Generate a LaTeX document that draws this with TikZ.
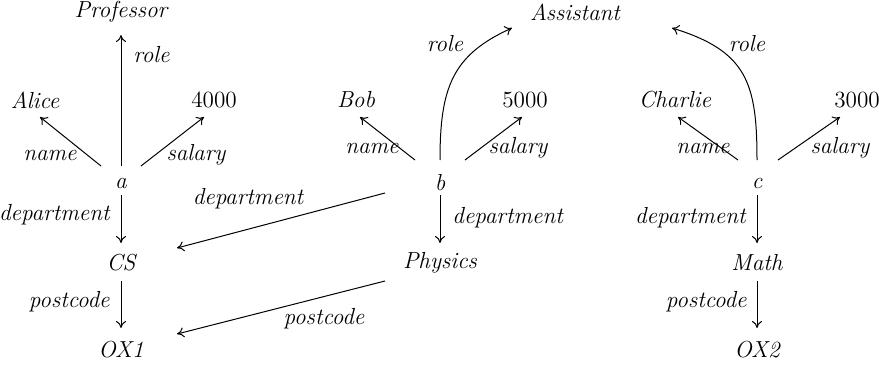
\documentclass[tikz,border=0pt]{standalone}
\usetikzlibrary{arrows.meta,calc}
\begin{document}
\begin{tikzpicture}[x=0.5pt,y=0.5pt,
  every node/.style={font=\fontsize{11.6}{13}\selectfont\itshape, inner sep=2pt},
  num/.style={font=\fontsize{11.6}{13}\selectfont\upshape},
  lbl/.style={font=\fontsize{11.6}{13}\selectfont\itshape, inner sep=1pt},
  edge/.style={-{To[length=3.5pt,width=5pt]}, line width=0.5pt}]
\useasboundingbox (0,0) rectangle (879,366);
% nodes
\node (prof) at (121,354) {Professor};
\node (alice) at (35,266) {Alice};
\node[num] (s4) at (214,266) {4000};
\node (a) at (121,183) {a};
\node (cs) at (121,103) {CS};
\node (ox1) at (121,16) {OX1};
\node (bob) at (356,266) {Bob};
\node[num] (s5) at (525,266) {5000};
\node (b) at (440,183) {b};
\node (asst) at (575,354) {Assistant};
\node (phys) at (440,103) {Physics};
\node (charlie) at (675,266) {Charlie};
\node[num] (s3) at (857,266) {3000};
\node (c) at (757,183) {c};
\node (math) at (757,103) {Math};
\node (ox2) at (757,16) {OX2};
% a edges
\draw[edge] ($(a)+(0,17)$) -- ($(prof)+(0,-23)$);
\node[lbl,anchor=west] (l1) at (131,311) {role};
\draw[edge] ($(a)+(-20,17)$) -- ($(alice)+(5,-17)$);
\node[lbl] (l2) at (50,211) {name};
\draw[edge] ($(a)+(20,17)$) -- ($(s4)+(-10,-17)$);
\node[lbl] (l3) at (196,211) {salary};
\draw[edge] ($(a)+(0,-12)$) -- ($(cs)+(0,20)$);
\node[lbl,anchor=east] (l4) at (112,151) {department};
\draw[edge] ($(cs)+(0,-18)$) -- ($(ox1)+(0,22)$);
\node[lbl,anchor=east] (l5) at (112,64) {postcode};
% b edges
\draw[edge] ($(b)+(-25,23)$) -- ($(bob)+(4,-17)$);
\node[lbl] (l6) at (372,218) {name};
\draw[edge] ($(b)+(25,23)$) -- ($(s5)+(-3,-17)$);
\node[lbl] (l7) at (518,218) {salary};
\draw[edge] ($(b)+(0,23)$) .. controls ($(b)+(0,95)$) and ($(b)+(12,128)$) .. ($(asst)+(-63,-16)$);
\node[lbl] (l8) at (445,322) {role};
\draw[edge] ($(b)+(0,-12)$) -- ($(phys)+(0,20)$);
\node[lbl,anchor=west] (l9) at (450,148) {department};
\draw[edge] ($(b)+(-55,-10)$) -- ($(cs)+(56,15)$);
\node[lbl] (l10) at (248,167) {department};
\draw[edge] ($(phys)+(-55,-18)$) -- ($(ox1)+(56,16)$);
\node[lbl] (l11) at (324,47) {postcode};
% c edges
\draw[edge] ($(c)+(-19,23)$) -- ($(charlie)+(3,-17)$);
\node[lbl] (l12) at (703,218) {name};
\draw[edge] ($(c)+(21,23)$) -- ($(s3)+(-17,-17)$);
\node[lbl] (l13) at (840,218) {salary};
\draw[edge] ($(c)+(0,23)$) .. controls ($(c)+(0,100)$) and ($(c)+(-10,132)$) .. ($(asst)+(97,-16)$);
\node[lbl] (l14) at (747,322) {role};
\draw[edge] ($(c)+(0,-12)$) -- ($(math)+(0,20)$);
\node[lbl,anchor=east] (l15) at (748,148) {department};
\draw[edge] ($(math)+(0,-18)$) -- ($(ox2)+(0,22)$);
\node[lbl,anchor=east] (l16) at (749,64) {postcode};
\end{tikzpicture}
\end{document}
